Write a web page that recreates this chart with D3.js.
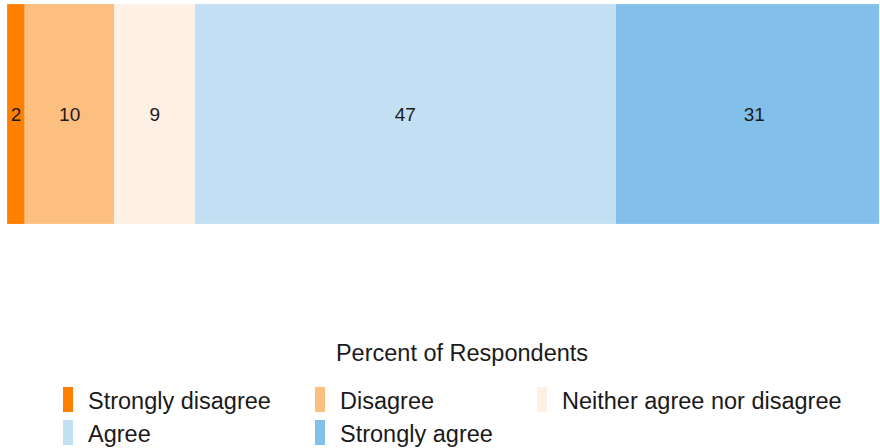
<!DOCTYPE html>
<html>
<head>
<meta charset="utf-8">
<script src="https://cdn.jsdelivr.net/npm/d3@7"></script>
<style>
  html, body { margin: 0; padding: 0; background: #fff; }
  svg { display: block; font-family: "Liberation Sans", Arial, sans-serif; }
</style>
</head>
<body>
<svg id="chart" width="880" height="448"></svg>
<script>
// Response categories, in stacking order
const categories = ["Strongly disagree", "Disagree", "Neither agree nor disagree", "Agree", "Strongly agree"];
// Percent of respondents per category
const percents = [2, 10, 9, 47, 31];
// Fill colours per category
const colors = ["#ff7f00", "#fdbf80", "#fef0e4", "#c3dff3", "#82bfe9"];
const legendTitle = "Percent of Respondents";

const svg = d3.select("#chart");
const W = 880, H = 448;

// Cumulative stacking
const stacked = [];
let acc = 0;
percents.forEach((v, i) => { stacked.push({ cat: categories[i], value: v, x0: acc, x1: acc + v }); acc += v; });

const x = d3.scaleLinear().domain([0, d3.sum(percents)]).range([7, 893]);
const y = d3.scaleBand().domain(["all"]).range([4, 224]).padding(0);
const color = d3.scaleOrdinal().domain(categories).range(colors);

svg.append("defs").append("clipPath").attr("id", "plotclip")
  .append("rect").attr("x", 0).attr("y", 0).attr("width", 879).attr("height", H);

const plot = svg.append("g").attr("clip-path", "url(#plotclip)");

plot.selectAll("rect.seg").data(stacked).join("rect")
  .attr("class", "seg")
  .attr("x", d => x(d.x0))
  .attr("y", y("all"))
  .attr("width", d => x(d.x1) - x(d.x0))
  .attr("height", y.bandwidth())
  .attr("fill", d => color(d.cat))
  .attr("stroke", "rgba(255,255,255,0.35)")
  .attr("stroke-width", 0.6);

plot.selectAll("text.lbl").data(stacked).join("text")
  .attr("class", "lbl")
  .attr("x", d => (x(d.x0) + x(d.x1)) / 2)
  .attr("y", y("all") + y.bandwidth() / 2)
  .attr("dy", "0.35em")
  .attr("text-anchor", "middle")
  .attr("font-size", 19)
  .attr("fill", "#1a1a1a")
  .text(d => d3.format("d")(d.value));

// Legend
const legend = svg.append("g");
legend.append("text")
  .attr("x", 462).attr("y", 361)
  .attr("text-anchor", "middle")
  .attr("font-size", 23.5)
  .attr("fill", "#1a1a1a")
  .text(legendTitle);

const colX = [63, 315, 537];
const rowY = [387, 420];
const items = legend.selectAll("g.item").data(categories).join("g")
  .attr("class", "item")
  .attr("transform", (d, i) => `translate(${colX[i % 3]},${rowY[Math.floor(i / 3)]})`);
items.append("rect")
  .attr("width", 10).attr("height", 25)
  .attr("fill", d => color(d));
items.append("text")
  .attr("x", 25).attr("y", 13.5)
  .attr("dy", "0.35em")
  .attr("font-size", 23.5)
  .attr("fill", "#1a1a1a")
  .text(d => d);
</script>
</body>
</html>
